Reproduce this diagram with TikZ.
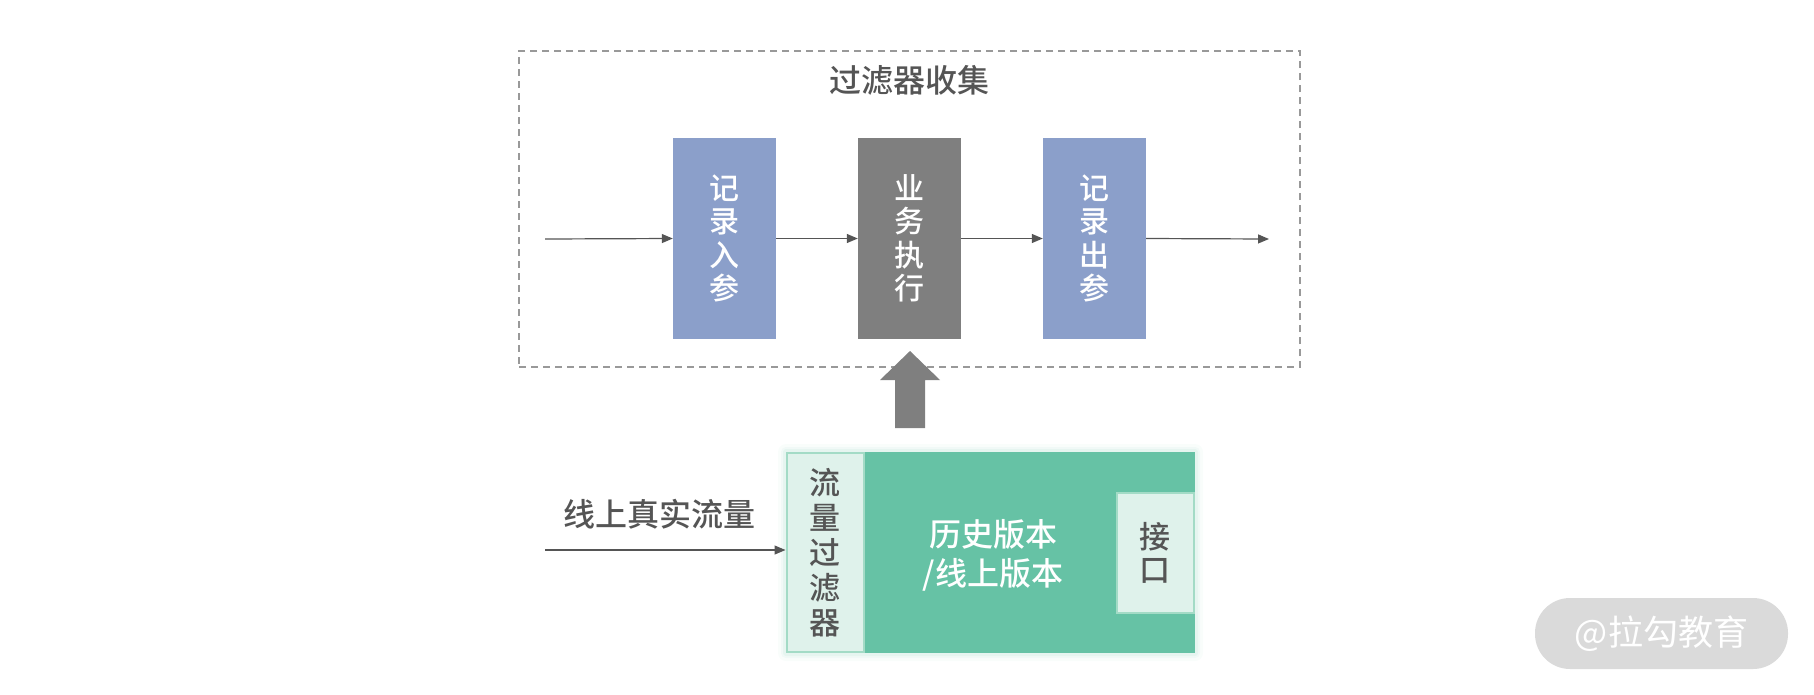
\documentclass[tikz,border=0pt]{standalone}
\usepackage{fontspec}
\setmainfont{Noto Sans CJK SC}[BoldFont={* Medium}]
\usetikzlibrary{arrows.meta}
\definecolor{txt}{HTML}{555555}
\definecolor{bluebox}{HTML}{8B9FCA}
\definecolor{graybox}{HTML}{7F7F7F}
\definecolor{greenbox}{HTML}{66C2A5}
\definecolor{lightbox}{HTML}{DFF2EB}
\definecolor{lightborder}{HTML}{A3DBC6}
\definecolor{wm}{HTML}{DADADA}
\tikzset{
  stagebox/.style={rectangle, minimum width=103pt, minimum height=201pt, inner sep=0pt, text=white, align=center, font=\fontsize{30}{33.5}\selectfont\bfseries},
  flow/.style={draw=txt, line width=1.2pt, -{Triangle[length=11pt,width=9pt]}},
  lbl/.style={text=txt, inner sep=0pt},
}
\begin{document}
\begin{tikzpicture}[x=1pt,y=-1pt]
\useasboundingbox (0,0) rectangle (1814,694);
% dashed frame
\node[draw=graybox!80, dashed, dash pattern=on 7pt off 5pt, line width=1.4pt, minimum width=781pt, minimum height=316pt, inner sep=0pt] (frame) at (909.5,209) {};
\node[lbl, font=\fontsize{32}{34}\selectfont\bfseries] (title) at (909,80) {过滤器收集};
% stages
\node[stagebox, fill=bluebox] (in) at (724.5,238.5) {记\\录\\入\\参};
\node[stagebox, fill=graybox] (biz) at (909.5,238.5) {业\\务\\执\\行};
\node[stagebox, fill=bluebox] (out) at (1094.5,238.5) {记\\录\\出\\参};
\coordinate (start) at (545,239);
\coordinate (end) at (1269,239);
\draw[flow] (start) -- (in.west);
\draw[flow] (in.east) -- (biz.west);
\draw[flow] (biz.east) -- (out.west);
\draw[flow] (out.east) -- (end);
% big up arrow
\fill[graybox] (895,428) -- (895,380) -- (880,380) -- (910,351) -- (940,380) -- (925,380) -- (925,428) -- cycle;
% green system
\foreach \w/\o in {8/0.04,5/0.06,3/0.08}{
  \fill[greenbox, opacity=\o, rounded corners=\w pt] (786-\w,452-\w) rectangle (1195+\w,653+\w);
}
\node[rectangle, fill=greenbox, minimum width=409pt, minimum height=201pt, inner sep=0pt] (sys) at (990.5,552.5) {};
\node[rectangle, fill=lightbox, draw=lightborder, line width=2pt, minimum width=77pt, minimum height=199pt, inner sep=0pt, text=txt, align=center, font=\fontsize{31}{35}\selectfont\bfseries] (filter) at (825,552.5) {流\\量\\过\\滤\\器};
\node[rectangle, fill=lightbox, draw=lightborder, line width=2pt, minimum width=77pt, minimum height=120pt, inner sep=0pt, text=txt, align=center, font=\fontsize{31}{33}\selectfont\bfseries] (api) at (1155,552.5) {接\\口};
\node[text=white, align=center, inner sep=0pt, font=\fontsize{32}{39}\selectfont\bfseries] (ver) at (993,555) {历史版本\\/线上版本};
\node[lbl, font=\fontsize{32}{34}\selectfont\bfseries] (traffic) at (659,514) {线上真实流量};
\coordinate (tstart) at (545,550);
\draw[flow] (tstart) -- (tstart -| filter.west);
% watermark
\node[rectangle, rounded corners=35pt, fill=wm, minimum width=253pt, minimum height=71pt, inner sep=0pt, text=white, font=\fontsize{35}{38}\selectfont] (wmk) at (1661.5,633.5) {@拉勾教育};
\end{tikzpicture}
\end{document}
